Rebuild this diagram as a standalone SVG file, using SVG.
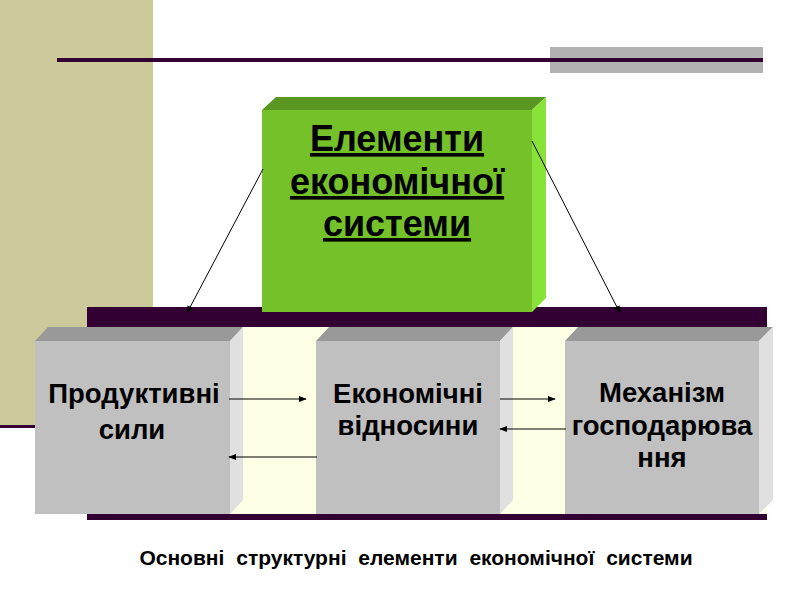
<svg xmlns="http://www.w3.org/2000/svg" width="800" height="600" viewBox="0 0 800 600">
<defs>
<style>
.t{font-family:"Liberation Sans",Arial,sans-serif;font-weight:bold;fill:#000;text-anchor:middle}
.bt{font-size:27.5px}
.gt{font-size:36px;text-decoration:underline}
.cap{font-size:21px;word-spacing:6px}
.c{stroke:#000;stroke-width:1;fill:none}
.front{fill:#C0C0C0}.top{fill:#999999}.side{fill:#E0E0E0}
</style>
<marker id="ah" viewBox="0 0 10 10" refX="9" refY="5" markerWidth="8" markerHeight="8" orient="auto" markerUnits="userSpaceOnUse">
<path d="M0,1 L10,5 L0,9 Z" fill="#000"/>
</marker>
</defs>
<rect width="800" height="600" fill="#fff"/>
<g id="background">
<rect x="0" y="0" width="153" height="425" fill="#CCCA9A"/>
<rect x="0" y="425" width="90" height="3" fill="#330033"/>
<rect x="550" y="47" width="213" height="26" fill="#B2B2B2"/>
<rect x="57" y="58" width="706" height="4" fill="#330033"/>
<rect x="87" y="307" width="680" height="213" fill="#330033"/>
<rect x="87" y="327" width="680" height="187" fill="#FFFFE6"/>
</g>
<g id="node-elements">
<polygon points="262,110 276,97 546,97 532,110" fill="#5A9722"/>
<polygon points="532,110 546,97 546,298 532,312" fill="#88E23A"/>
<rect x="262" y="110" width="270" height="202" fill="#75C12A"/>
<text class="t gt" x="397" y="151">Елементи</text>
<text class="t gt" x="397" y="194">економічної</text>
<text class="t gt" x="397" y="236">системи</text>
</g>
<g id="node-productive">
<polygon class="top" points="35,341 48,327 243,327 230,341"/>
<polygon class="side" points="230,341 243,327 243,500 230,514"/>
<rect class="front" x="35" y="341" width="195" height="173"/>
<text class="t bt" x="134" y="403">Продуктивні</text>
<text class="t bt" x="132" y="439">сили</text>
</g>
<g id="node-relations">
<polygon class="top" points="316,341 329,327 513,327 500,341"/>
<polygon class="side" points="500,341 513,327 513,500 500,514"/>
<rect class="front" x="316" y="341" width="184" height="173"/>
<text class="t bt" x="408" y="403">Економічні</text>
<text class="t bt" x="408" y="435">відносини</text>
</g>
<g id="node-mechanism">
<polygon class="top" points="565,341 578,327 773,327 759,341"/>
<polygon class="side" points="759,341 773,327 773,500 759,514"/>
<rect class="front" x="565" y="341" width="194" height="173"/>
<text class="t bt" x="662" y="402">Механізм</text>
<text class="t bt" x="662" y="435">господарюва</text>
<text class="t bt" x="662" y="467">ння</text>
</g>
<g id="connectors">
<line class="c" x1="263" y1="169" x2="187" y2="313" marker-end="url(#ah)"/>
<line class="c" x1="532" y1="141" x2="620" y2="313" marker-end="url(#ah)"/>
<line class="c" x1="229" y1="399" x2="306" y2="399" marker-end="url(#ah)"/>
<line class="c" x1="317" y1="457" x2="229" y2="457" marker-end="url(#ah)"/>
<line class="c" x1="500" y1="399" x2="555" y2="399" marker-end="url(#ah)"/>
<line class="c" x1="566" y1="429" x2="500" y2="429" marker-end="url(#ah)"/>
</g>
<text class="t cap" x="416" y="565">Основні структурні елементи економічної системи</text>
</svg>
